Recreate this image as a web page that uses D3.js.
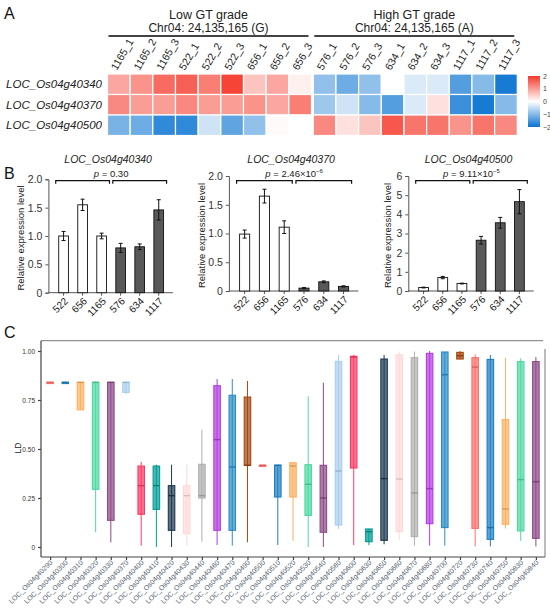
<!DOCTYPE html>
<html lang="en">
<head>
<meta charset="UTF-8">
<title>GT grade expression and LD</title>
<script src="https://d3js.org/d3.v7.min.js"></script>
<style>
  body { margin: 0; background: #fff; }
  text { font-family: "Liberation Sans", Arial, sans-serif; }
</style>
</head>
<body>
<div id="fig"></div>
<script>
// ---------- panel A data ----------
var heatCols = ["1165_1","1165_2","1165_3","522_1","522_2","522_3","656_1","656_2","656_3",
                "576_1","576_2","576_3","634_1","634_2","634_3","1117_1","1117_2","1117_3"];
var heatGenes = ["LOC_Os04g40340","LOC_Os04g40370","LOC_Os04g40500"];
var heat40340 = [0.9, 1.1, 1.5, 1.6, 1.3, 1.9, 0.6, 0.9, 0.15, -0.9, -1.2, -0.9, 0.0, -0.3, -0.3, -1.4, -1.0, -1.9];
var heat40370 = [1.2, 1.0, 1.0, 1.2, 1.0, 1.0, 1.1, 0.9, 1.3, -0.8, -0.4, -1.0, -1.4, -0.3, 0.3, -1.6, -1.9, -1.0];
var heat40500 = [-1.1, -1.2, -1.7, -1.7, -0.4, -1.3, -0.9, 0.05, 0.0, 1.2, 0.3, 0.6, 1.7, 1.4, 1.4, 1.1, 1.4, 1.2];
var heatLegend = [2, 1, 0, -1, -2];

// ---------- panel B data ----------
var barLines = ["522","656","1165","576","634","1117"];
var expr40340 = [1.00, 1.55, 1.00, 0.79, 0.81, 1.46];
var err40340  = [0.08, 0.10, 0.05, 0.08, 0.05, 0.18];
var expr40370 = [0.99, 1.65, 1.11, 0.05, 0.16, 0.08];
var err40370  = [0.07, 0.12, 0.11, 0.01, 0.015, 0.01];
var expr40500 = [0.18, 0.70, 0.39, 2.65, 3.56, 4.66];
var err40500  = [0.02, 0.06, 0.02, 0.20, 0.28, 0.63];

// ---------- panel C data ----------
var ldGenes = ["40290","40300","40310","40320","40330","40370","40400","40410","40420","40430","40440",
               "40460","40470","40490","40500","40510","40520","40530","40540","40560","40600","40630",
               "40650","40660","40670","40680","40700","40720","40730","40740","40750","40830","40840"]
  .map(function(d) { return "LOC_Os04g" + d; });
var ldMin = [0.84, 0.84, 0.70, 0.075, 0.024, 0.779, 0.007, 0.0, 0.0, 0.007, 0.027,
             0.01, 0.007, 0.024, 0.417, 0.01, 0.031, 0.0, 0.0, 0.092, 0.01, 0.01,
             0.014, 0.034, 0.007, 0.007, 0.007, 0.959, 0.003, 0.003, 0.095, 0.031, 0.003];
var ldQ1  = [0.84, 0.84, 0.70, 0.294, 0.136, 0.789, 0.167, 0.192, 0.085, 0.068, 0.25,
             0.085, 0.085, 0.417, 0.417, 0.255, 0.255, 0.161, 0.075, 0.112, 0.403, 0.027,
             0.034, 0.078, 0.053, 0.119, 0.099, 0.959, 0.095, 0.039, 0.116, 0.082, 0.044];
var ldMed = [0.84, 0.84, 0.84, 0.84, 0.84, 0.84, 0.313, 0.313, 0.262, 0.262, 0.262,
             0.548, 0.408, 0.417, 0.417, 0.417, 0.413, 0.32, 0.25, 0.388, 0.97, 0.078,
             0.349, 0.347, 0.276, 0.298, 0.879, 0.976, 0.918, 0.099, 0.194, 0.344, 0.333];
var ldQ3  = [0.84, 0.84, 0.84, 0.84, 0.84, 0.84, 0.413, 0.413, 0.313, 0.313, 0.422,
             0.823, 0.774, 0.765, 0.417, 0.417, 0.43, 0.42, 0.417, 0.947, 0.973, 0.092,
             0.959, 0.98, 0.966, 0.988, 0.995, 0.993, 0.966, 0.957, 0.65, 0.946, 0.946];
var ldMax = [0.84, 0.84, 0.84, 0.845, 0.84, 0.84, 0.435, 0.42, 0.42, 0.42, 0.599,
             0.857, 0.857, 0.847, 0.417, 0.417, 0.43, 0.769, 0.838, 0.98, 0.98, 0.092,
             0.98, 0.997, 0.997, 1.0, 0.995, 1.0, 0.983, 0.98, 0.966, 0.963, 0.969];
var ldPalette = ["#FF6F69","#1F7FC0","#FFB061","#4ED9A1","#8E4A86","#A9CFEE","#FF3A62",
                 "#009C94","#1D3A52","#FFD9D9","#AFAFAF","#B53BE2","#2A8DC6","#A6470F"];
var ldTicks = [0, 0.25, 0.5, 0.75, 1];

var W = 550, H = 611;
var svg = d3.select("#fig").append("svg").attr("width", W).attr("height", H);

function panelLetter(t, x, y) {
  svg.append("text").attr("x", x).attr("y", y).attr("font-size", 16).attr("fill", "#111").text(t);
}

// ================= A: heatmap =================
panelLetter("A", 4, 19);
var heatRows = [heat40340, heat40370, heat40500];
var hx = d3.scaleBand().domain(heatCols).range([107.5, 515.5]);
var gap = function(c) { return heatCols.indexOf(c) >= 9 ? 1.8 : 0; };
var hy = d3.scaleBand().domain(heatGenes).range([74, 135.5]);
var heatColor = d3.scaleLinear().domain([-2, 0, 2]).range(["#0B74D2", "#FFFFFF", "#F53A2B"]);

var cells = [];
heatGenes.forEach(function(g, i) {
  heatCols.forEach(function(c, j) { cells.push({gene: g, col: c, v: heatRows[i][j]}); });
});
svg.append("g").selectAll("rect").data(cells).enter().append("rect")
  .attr("x", function(d) { return hx(d.col) + gap(d.col); })
  .attr("y", function(d) { return hy(d.gene); })
  .attr("width", hx.bandwidth())
  .attr("height", hy.bandwidth())
  .attr("fill", function(d) { return heatColor(d.v); })
  .attr("stroke", "#fff").attr("stroke-width", 1.2);

svg.append("g").selectAll("text").data(heatGenes).enter().append("text")
  .attr("x", 102).attr("y", function(d) { return hy(d) + hy.bandwidth() / 2 + 4; })
  .attr("text-anchor", "end").attr("font-size", 11.5).attr("font-style", "italic")
  .attr("fill", "#222").text(function(d) { return d; });

svg.append("g").selectAll("text").data(heatCols).enter().append("text")
  .attr("transform", function(d) {
    return "translate(" + (hx(d) + gap(d) + hx.bandwidth() / 2 - 2) + ",71) rotate(-60)";
  })
  .attr("font-size", 10.5).attr("fill", "#222").text(function(d) { return d; });

// group headers
var groups = [
  {t1: "Low GT grade", t2: "Chr04: 24,135,165 (G)", a: heatCols[0], b: heatCols[8]},
  {t1: "High GT grade", t2: "Chr04: 24,135,165 (A)", a: heatCols[9], b: heatCols[17]}
];
groups.forEach(function(g) {
  var x1 = hx(g.a) + gap(g.a) + 1, x2 = hx(g.b) + gap(g.b) + hx.bandwidth() - 3;
  var cx = (x1 + x2) / 2;
  svg.append("line").attr("x1", x1).attr("x2", x2).attr("y1", 36).attr("y2", 36)
    .attr("stroke", "#444").attr("stroke-width", 2);
  svg.append("text").attr("x", cx).attr("y", 18.5).attr("text-anchor", "middle")
    .attr("font-size", 12.5).attr("fill", "#222").text(g.t1);
  svg.append("text").attr("x", cx).attr("y", 32).attr("text-anchor", "middle")
    .attr("font-size", 12).attr("fill", "#222").text(g.t2);
});

// colour legend
var defs = svg.append("defs");
var grad = defs.append("linearGradient").attr("id", "hgrad")
  .attr("x1", 0).attr("y1", 0).attr("x2", 0).attr("y2", 1);
heatLegend.forEach(function(v, i) {
  grad.append("stop").attr("offset", (i / (heatLegend.length - 1)) * 100 + "%")
    .attr("stop-color", heatColor(v));
});
var ly = d3.scaleLinear().domain([2, -2]).range([76, 127]);
svg.append("rect").attr("x", 528).attr("y", ly(2)).attr("width", 12)
  .attr("height", ly(-2) - ly(2)).attr("fill", "url(#hgrad)");
svg.append("g").selectAll("text").data(heatLegend).enter().append("text")
  .attr("x", 543).attr("y", function(d) { return ly(d) + 2.5; })
  .attr("font-size", 7).attr("fill", "#444")
  .text(function(d) { return d < 0 ? "\u2212" + Math.abs(d) : d; });

// ================= B: bar charts =================
panelLetter("B", 4, 179);

function barChart(o) {
  var g = svg.append("g");
  var x = d3.scaleBand().domain(barLines).range([o.left, o.right]).padding(0.49);
  var y = d3.scaleLinear().domain([0, o.max]).range([o.y0, o.ytop]);
  var rows = barLines.map(function(d, i) { return {line: d, v: o.vals[i], e: o.errs[i], hi: i >= 3}; });

  // axes
  var ya = g.append("g").attr("transform", "translate(" + (o.left - 1) + ",0)")
    .call(d3.axisLeft(y).tickValues(o.ticks).tickFormat(o.fmt).tickSize(3).tickPadding(3));
  ya.selectAll("text").attr("font-size", 10.5).attr("fill", "#333")
    .style("font-family", "Liberation Sans, Arial, sans-serif");
  ya.selectAll("line, path").attr("stroke", "#555");

  var xa = g.append("g").attr("transform", "translate(0," + o.y0 + ")")
    .call(d3.axisBottom(x).tickSize(3).tickFormat(""));
  xa.selectAll("line, path").attr("stroke", "#555");
  xa.select(".domain").attr("d", "M" + (o.left - 1) + ",0H" + o.right);

  g.selectAll(".lab").data(barLines).enter().append("text")
    .attr("transform", function(d) {
      return "translate(" + (x(d) + x.bandwidth() / 2 + 5) + "," + (o.y0 + 9) + ") rotate(-45)";
    })
    .attr("text-anchor", "end").attr("font-size", 10).attr("fill", "#222")
    .text(function(d) { return d; });

  // bars
  g.selectAll(".bar").data(rows).enter().append("rect")
    .attr("x", function(d) { return x(d.line); })
    .attr("y", function(d) { return y(d.v); })
    .attr("width", x.bandwidth())
    .attr("height", function(d) { return o.y0 - y(d.v); })
    .attr("fill", function(d) { return d.hi ? "#595959" : "#fff"; })
    .attr("stroke", "#111").attr("stroke-width", 0.9);

  // error bars
  rows.forEach(function(d) {
    var cx = x(d.line) + x.bandwidth() / 2;
    g.append("line").attr("x1", cx).attr("x2", cx)
      .attr("y1", y(d.v - d.e)).attr("y2", y(d.v + d.e)).attr("stroke", "#111");
    [d.v - d.e, d.v + d.e].forEach(function(v) {
      g.append("line").attr("x1", cx - 2).attr("x2", cx + 2)
        .attr("y1", y(v)).attr("y2", y(v)).attr("stroke", "#111");
    });
  });

  // bracket + p value
  var by = 180.7;
  [[0, 2], [3, 5]].forEach(function(p) {
    var xa1 = x(barLines[p[0]]) - 3, xa2 = x(barLines[p[1]]) + x.bandwidth() + 3;
    g.append("path").attr("d", "M" + xa1 + "," + (by + 3) + "V" + by + "H" + xa2 + "V" + (by + 3))
      .attr("fill", "none").attr("stroke", "#111").attr("stroke-width", 1.2);
  });
  var mid = (x(barLines[2]) + x.bandwidth() + x(barLines[3])) / 2;
  var pt = g.append("text").attr("x", mid).attr("y", 176.5).attr("text-anchor", "middle")
    .attr("font-size", 9.5).attr("fill", "#222");
  pt.append("tspan").attr("font-style", "italic").text("p");
  pt.append("tspan").text(" = " + o.p);
  if (o.exp) {
    pt.append("tspan").attr("font-size", 6).attr("dy", -4).text(o.exp);
  }

  // title and y label
  g.append("text").attr("x", (o.left + o.right) / 2 - 3).attr("y", 163).attr("text-anchor", "middle")
    .attr("font-size", 10.5).attr("font-style", "italic").attr("fill", "#222").text(o.title);
  g.append("text").attr("transform", "translate(" + o.ylab + "," + ((o.y0 + o.ytop) / 2 + 2) + ") rotate(-90)")
    .attr("text-anchor", "middle").attr("font-size", 9.5).attr("fill", "#222")
    .text("Relative expression level");
}

barChart({title: "LOC_Os04g40340", left: 49.4, right: 172.9, y0: 292.7, ytop: 179.3, max: 2,
          ticks: [0, 0.5, 1, 1.5, 2], fmt: function(d) { return d === 0 ? "0" : d3.format(".1f")(d); },
          vals: expr40340, errs: err40340, p: "0.30", exp: null, ylab: 24});
barChart({title: "LOC_Os04g40370", left: 229.9, right: 358.3, y0: 291, ytop: 176, max: 2,
          ticks: [0, 0.5, 1, 1.5, 2], fmt: function(d) { return d === 0 ? "0" : d3.format(".1f")(d); },
          vals: expr40370, errs: err40370, p: "2.46\u00d710", exp: "\u22126", ylab: 205});
barChart({title: "LOC_Os04g40500", left: 409.3, right: 533.7, y0: 291, ytop: 176, max: 6,
          ticks: [0, 1, 2, 3, 4, 5, 6], fmt: d3.format("d"),
          vals: expr40500, errs: err40500, p: "9.11\u00d710", exp: "\u22125", ylab: 391});

// ================= C: LD box plots =================
panelLetter("C", 4, 338);
var cx = d3.scalePoint().domain(ldGenes).range([41, 545]).padding(0.6);
var cy = d3.scaleLinear().domain([0, 1]).range([547, 351]);
var boxW = 6.5;

var gc = svg.append("g");
// frame
gc.append("line").attr("x1", 41).attr("x2", 543).attr("y1", 340.7).attr("y2", 340.7)
  .attr("stroke", "#777").attr("stroke-width", 1);
gc.append("line").attr("x1", 545).attr("x2", 545).attr("y1", 349).attr("y2", 557)
  .attr("stroke", "#777").attr("stroke-width", 1);

var yaxC = gc.append("g").attr("transform", "translate(41,0)")
  .call(d3.axisLeft(cy).tickValues(ldTicks).tickSize(3)
    .tickFormat(function(d) { return d === 0 ? "0" : d3.format(".2f")(d); }));
yaxC.select(".domain").attr("d", "M0,340.7V557");
yaxC.selectAll("path, line").attr("stroke", "#444").attr("stroke-width", 1.2);
yaxC.selectAll("text").attr("font-size", 6.5).attr("fill", "#333")
  .style("font-family", "Liberation Sans, Arial, sans-serif");

var xaxC = gc.append("g").attr("transform", "translate(0,557)")
  .call(d3.axisBottom(cx).tickSize(3).tickFormat(""));
xaxC.select(".domain").attr("d", "M41,0H545");
xaxC.selectAll("path, line").attr("stroke", "#444").attr("stroke-width", 1.2);

gc.selectAll(".glab").data(ldGenes).enter().append("text")
  .attr("transform", function(d) { return "translate(" + (cx(d) + 3) + ",563) rotate(-45)"; })
  .attr("text-anchor", "end").attr("font-size", 7).attr("fill", "#556070")
  .text(function(d) { return d; });

gc.append("text").attr("transform", "translate(21,448) rotate(-90)")
  .attr("text-anchor", "middle").attr("font-size", 8.5).attr("fill", "#222").text("LD");

var boxes = ldGenes.map(function(g, i) {
  return {gene: g, min: ldMin[i], q1: ldQ1[i], med: ldMed[i], q3: ldQ3[i], max: ldMax[i],
          color: ldPalette[i % ldPalette.length]};
});
var bg = gc.selectAll(".box").data(boxes).enter().append("g");
bg.append("line")
  .attr("x1", function(d) { return cx(d.gene); }).attr("x2", function(d) { return cx(d.gene); })
  .attr("y1", function(d) { return cy(d.min); }).attr("y2", function(d) { return cy(d.max); })
  .attr("stroke", function(d) { return d.color; }).attr("stroke-width", 1);
bg.append("rect")
  .attr("x", function(d) { return cx(d.gene) - boxW / 2; })
  .attr("y", function(d) { return cy(d.q3); })
  .attr("width", boxW)
  .attr("height", function(d) { return Math.max(cy(d.q1) - cy(d.q3), 1.2); })
  .attr("fill", function(d) { return d.color; }).attr("fill-opacity", 0.72)
  .attr("stroke", function(d) { return d.color; }).attr("stroke-width", 1.1);
bg.append("line")
  .attr("x1", function(d) { return cx(d.gene) - boxW / 2; })
  .attr("x2", function(d) { return cx(d.gene) + boxW / 2; })
  .attr("y1", function(d) { return cy(d.med); }).attr("y2", function(d) { return cy(d.med); })
  .attr("stroke", function(d) { return d3.color(d.color).darker(0.4); }).attr("stroke-width", 1.4);
</script>
</body>
</html>
